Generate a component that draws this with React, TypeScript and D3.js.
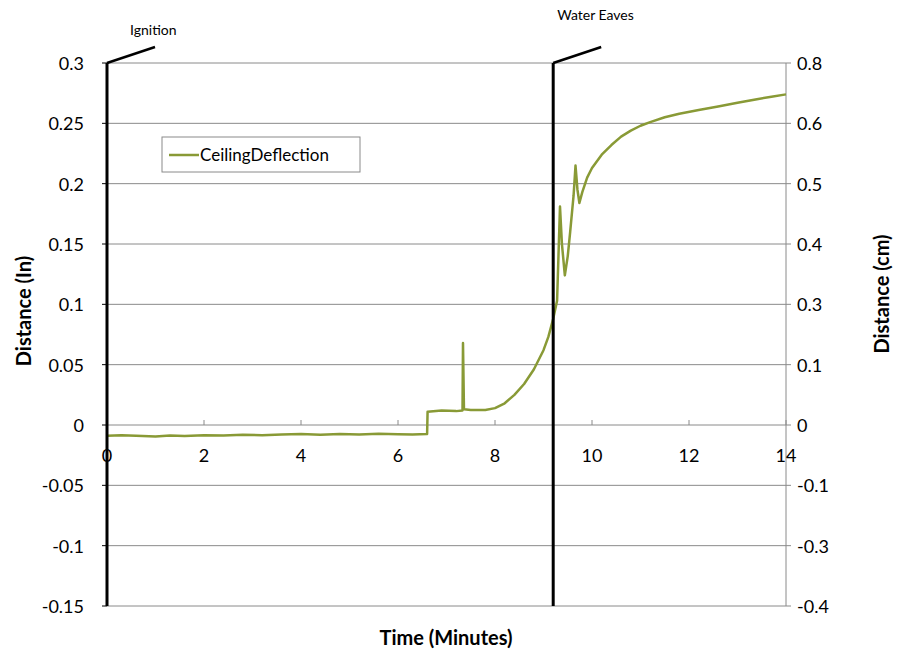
import React from "react";
import * as d3 from "d3";

const times = [0, 0.3, 0.6, 1, 1.3, 1.6, 2, 2.4, 2.8, 3.2, 3.6, 4, 4.4, 4.8, 5.2, 5.6, 6.0, 6.3, 6.6, 6.61, 6.9, 7.2, 7.33, 7.34, 7.36, 7.5, 7.8, 8.0, 8.2, 8.4, 8.6, 8.8, 9.0, 9.1, 9.2, 9.28, 9.34, 9.38, 9.44, 9.5, 9.55, 9.62, 9.66, 9.7, 9.74, 9.8, 9.9, 10.0, 10.2, 10.4, 10.6, 10.8, 11.0, 11.2, 11.5, 11.8, 12.2, 12.6, 13.0, 13.4, 13.7, 14];
const deflection = [-0.009, -0.0085, -0.009, -0.0095, -0.0088, -0.0092, -0.0085, -0.0088, -0.008, -0.0085, -0.0078, -0.0075, -0.008, -0.0075, -0.0078, -0.0072, -0.0076, -0.0078, -0.0075, 0.011, 0.012, 0.0115, 0.012, 0.068, 0.013, 0.0125, 0.0125, 0.014, 0.018, 0.025, 0.034, 0.046, 0.062, 0.073, 0.088, 0.103, 0.181, 0.15, 0.124, 0.14, 0.16, 0.19, 0.215, 0.195, 0.184, 0.193, 0.205, 0.213, 0.224, 0.232, 0.239, 0.244, 0.248, 0.251, 0.255, 0.258, 0.261, 0.264, 0.267, 0.27, 0.272, 0.274];

const leftTicks = [0.3, 0.25, 0.2, 0.15, 0.1, 0.05, 0, -0.05, -0.1, -0.15];
const rightTickLabels = ["0.8", "0.6", "0.5", "0.4", "0.3", "0.1", "0", "-0.1", "-0.3", "-0.4"];
const xTicks = [0, 2, 4, 6, 8, 10, 12, 14];
const events = [
  { t: 0, label: "Ignition", labelDx: 23, labelY: 35 },
  { t: 9.2, label: "Water Eaves", labelDx: 4, labelY: 20 },
];
const seriesName = "CeilingDeflection";

const W = 899, H = 656;
const L = 107, R = 786, T = 63, B = 606;
const GREEN = "#899a36";
const FONT = "Lato, 'Open Sans', sans-serif";

export default function App() {
  const x = d3.scaleLinear().domain([0, 14]).range([L, R]);
  const y = d3.scaleLinear().domain([-0.15, 0.3]).range([B, T]);
  const data = times.map((t, i) => [t, deflection[i]] as [number, number]);
  const line = d3.line<[number, number]>().x(d => x(d[0])).y(d => y(d[1]));
  const y0 = y(0);
  return (
    <svg width={W} height={H} style={{ position: "absolute", left: 0, top: 0, background: "#fff" }} fontFamily={FONT}>
      {leftTicks.map((v, i) => (
        <g key={i}>
          <line x1={L} x2={R} y1={y(v)} y2={y(v)} stroke="#8a8a8a" strokeWidth={1} />
          <line x1={L - 5} x2={L} y1={y(v)} y2={y(v)} stroke="#000" strokeWidth={1} />
          <line x1={R} x2={R + 5} y1={y(v)} y2={y(v)} stroke="#8a8a8a" strokeWidth={1} />
          <text x={84} y={y(v) + 7} textAnchor="end" fontSize={18} fill="#000">{String(v)}</text>
          <text x={797} y={y(v) + 7} textAnchor="start" fontSize={18} fill="#000">{rightTickLabels[i]}</text>
        </g>
      ))}
      <line x1={R} x2={R} y1={T} y2={B} stroke="#8a8a8a" strokeWidth={1} />
      {xTicks.map(v => (
        <g key={v}>
          <line x1={x(v)} x2={x(v)} y1={y0 - 5} y2={y0} stroke="#8a8a8a" strokeWidth={1} />
          <text x={x(v)} y={y0 + 37} textAnchor="middle" fontSize={18} fill="#000">{v}</text>
        </g>
      ))}
      <path d={line(data) || ""} fill="none" stroke={GREEN} strokeWidth={2.5} strokeLinejoin="round" />
      {events.map(e => (
        <g key={e.label}>
          <line x1={x(e.t)} x2={x(e.t)} y1={T} y2={B} stroke="#000" strokeWidth={3} />
          <line x1={x(e.t)} x2={x(e.t) + 48} y1={T} y2={T - 16} stroke="#000" strokeWidth={2.5} />
          <text x={x(e.t) + e.labelDx} y={e.labelY} fontSize={14} fill="#000">{e.label}</text>
        </g>
      ))}
      <rect x={162} y={137} width={198} height={35} fill="#fff" stroke="#8a8a8a" strokeWidth={1} />
      <line x1={169} x2={199} y1={155} y2={155} stroke={GREEN} strokeWidth={2.5} />
      <text x={200} y={161} fontSize={17} fill="#000">{seriesName}</text>
      <text transform={`translate(31,311) rotate(-90)`} textAnchor="middle" fontSize={20} fontWeight="bold" fill="#000">Distance (In)</text>
      <text transform={`translate(889,294) rotate(-90)`} textAnchor="middle" fontSize={20} fontWeight="bold" fill="#000">Distance (cm)</text>
      <text x={446} y={645} textAnchor="middle" fontSize={20} fontWeight="bold" fill="#000">Time (Minutes)</text>
    </svg>
  );
}
